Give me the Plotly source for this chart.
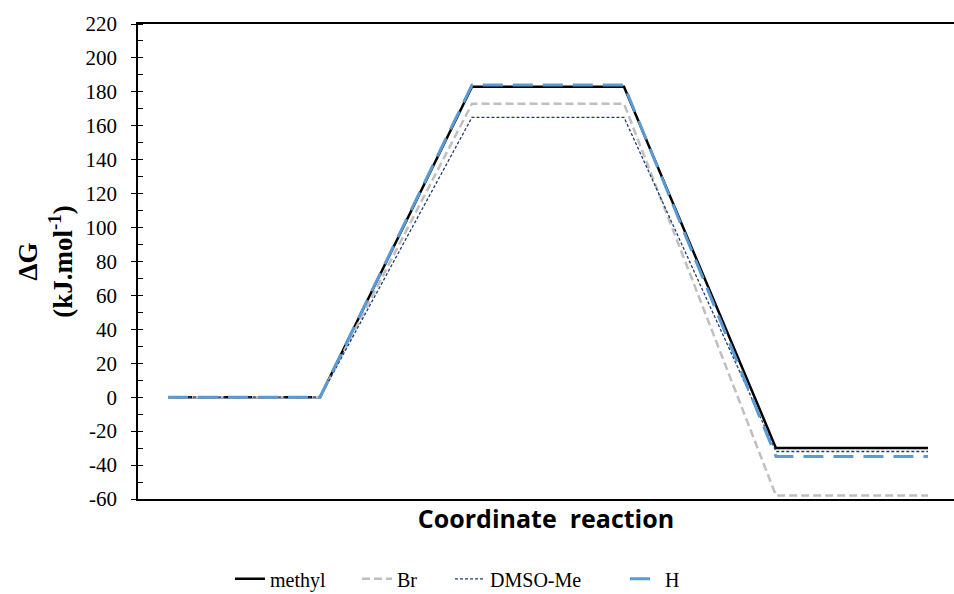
import plotly.graph_objects as go

steps = [0, 1, 2, 3, 4, 5]
methyl = [0, 0, 183, 183, -30, -30]
br = [0, 0, 173, 173, -58, -58]
dmso_me = [0, 0, 165, 165, -32, -32]
h_vals = [0, 0, 184, 184, -35, -35]

y_tickvals = [-60, -40, -20, 0, 20, 40, 60, 80, 100, 120, 140, 160, 180, 200, 220]
y_ticktext = ["-60", "-40", "-20", "0", "20", "40", "60", "80", "100", "120", "140",
              "160", "180", "200", "220"]

series = [
    ("methyl", methyl, dict(color="#000000", width=2.5, dash="solid"), "legend", 0.1127),
    ("Br", br, dict(color="#bfbfbf", width=2.5, dash="8px,4px"), "legend2", 0.2684),
    ("DMSO-Me", dmso_me, dict(color="#1f3a78", width=1.3, dash="3px,2px"), "legend3", 0.3824),
    ("H", h_vals, dict(color="#5b9bd5", width=3, dash="20px,10px"), "legend4", 0.5968),
]

serif = "Times New Roman, Liberation Serif, serif"

fig = go.Figure()
legends = {}
for name, vals, line, lg, lx in series:
    fig.add_trace(go.Scatter(x=steps, y=vals, mode="lines", name=name, line=line,
                             legend=lg))
    legends[lg] = dict(orientation="h", x=lx, xanchor="left", y=-0.127, yanchor="top",
                       font=dict(family=serif, size=20, color="#000"),
                       bgcolor="rgba(0,0,0,0)")

fig.add_trace(go.Scatter(x=[steps[0]], y=[0], yaxis="y2", mode="markers",
                         marker=dict(opacity=0), showlegend=False, hoverinfo="skip"))

fig.update_layout(
    width=954, height=594,
    margin=dict(l=138, r=0, t=24, b=95, autoexpand=False),
    paper_bgcolor="white", plot_bgcolor="white",
    showlegend=True,
    **legends,
    xaxis=dict(range=[-30/152, 5 + 26/152], showticklabels=False, ticks="",
               showgrid=False, zeroline=False, showline=True, linecolor="#000",
               linewidth=1.5, mirror=True, automargin=False,
               title=dict(text="<b>Coordinate  reaction</b>", standoff=11,
                          font=dict(family="Open Sans", size=25, color="#000"))),
    yaxis=dict(range=[-60, 220], tickvals=y_tickvals, ticktext=y_ticktext,
               showgrid=False, zeroline=False, automargin=False,
               showline=True, linecolor="#000", linewidth=1.5,
               ticks="outside", ticklen=5, tickcolor="#000", tickwidth=1,
               ticklabelstandoff=10,
               minor=dict(dtick=10, tick0=0, ticks="inside", ticklen=5,
                          tickcolor="#000", tickwidth=1),
               tickfont=dict(family=serif, size=21, color="#000"),
               title=dict(text="<b>ΔG<br>(kJ.mol<sup>-1</sup>)</b>", standoff=5,
                          font=dict(family=serif, size=27, color="#000"))),
    yaxis2=dict(range=[-60, 220], dtick=20, tick0=0, overlaying="y", side="left",
                showgrid=False, zeroline=False, showline=False, showticklabels=False,
                automargin=False,
                ticks="inside", ticklen=5, tickcolor="#000", tickwidth=1),
)

fig.write_html("out.html", config={"displayModeBar": False},
               post_script="document.body.style.margin='0';document.body.style.overflow='hidden';")
